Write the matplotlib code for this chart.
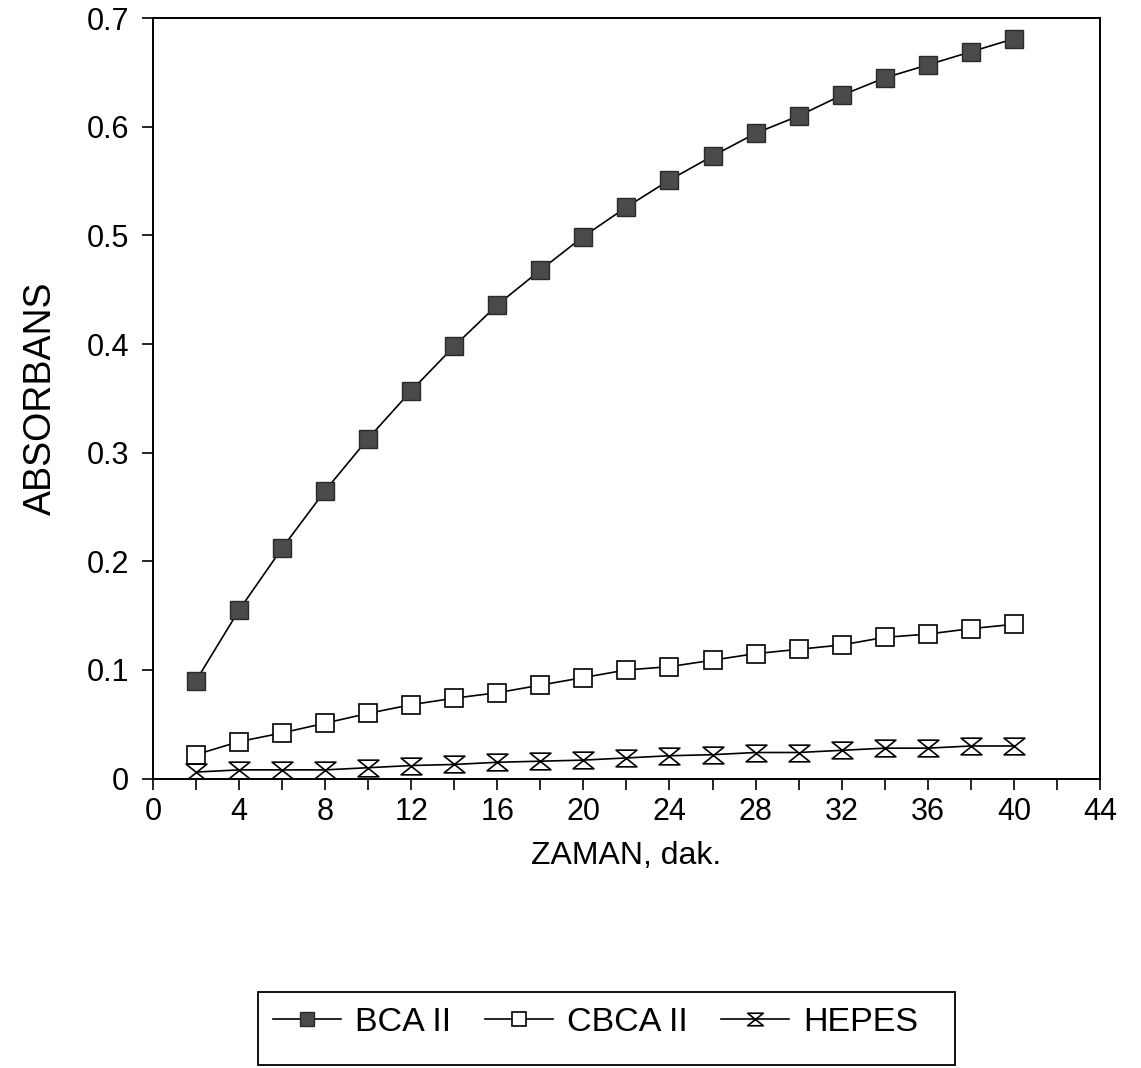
import matplotlib
matplotlib.use("Agg")
import matplotlib.pyplot as plt
from matplotlib.path import Path
from matplotlib.patches import Rectangle
from matplotlib.ticker import MultipleLocator, FuncFormatter

plt.rcParams["font.family"] = ["Liberation Sans", "DejaVu Sans"]

zaman = [2, 4, 6, 8, 10, 12, 14, 16, 18, 20, 22, 24, 26, 28, 30, 32, 34, 36, 38, 40]
bca = [0.090, 0.155, 0.212, 0.265, 0.313, 0.357, 0.398, 0.436, 0.468, 0.499,
       0.526, 0.551, 0.573, 0.594, 0.610, 0.629, 0.645, 0.657, 0.669, 0.681]
cbca = [0.022, 0.034, 0.042, 0.051, 0.060, 0.068, 0.074, 0.079, 0.086, 0.093,
        0.100, 0.103, 0.109, 0.115, 0.119, 0.123, 0.130, 0.133, 0.138, 0.142]
hepes = [0.006, 0.008, 0.008, 0.008, 0.010, 0.012, 0.013, 0.015, 0.016, 0.017,
         0.019, 0.021, 0.022, 0.024, 0.024, 0.026, 0.028, 0.028, 0.030, 0.030]

# hourglass marker: two triangles tip to tip
hourglass = Path([(-1, 0.8), (1, 0.8), (-1, -0.8), (1, -0.8), (-1, 0.8)],
                 [Path.MOVETO, Path.LINETO, Path.LINETO, Path.LINETO, Path.CLOSEPOLY])

fig = plt.figure(figsize=(11.41, 10.68), dpi=100)
ax = fig.add_axes([0.134, 0.271, 0.83, 0.712])

ax.plot(zaman, bca, color="black", lw=1.2, marker="s", markersize=13,
        markerfacecolor="#4a4a4a", markeredgecolor="#2a2a2a", label="BCA II")
ax.plot(zaman, cbca, color="black", lw=1.2, marker="s", markersize=13,
        markerfacecolor="white", markeredgecolor="black", markeredgewidth=1.2,
        label="CBCA II")
ax.plot(zaman, hepes, color="black", lw=1.2, marker=hourglass, markersize=15,
        markerfacecolor="white", markeredgecolor="black", markeredgewidth=1.2,
        label="HEPES")

ax.set_xlim(0, 44)
ax.set_ylim(0, 0.7)
ax.xaxis.set_major_locator(MultipleLocator(4))
ax.xaxis.set_minor_locator(MultipleLocator(2))
ax.yaxis.set_major_locator(MultipleLocator(0.1))
ax.yaxis.set_major_formatter(FuncFormatter(lambda v, p: "0" if abs(v) < 1e-9 else f"{v:.1f}"))
ax.tick_params(which="both", direction="out", length=8, width=1.2, labelsize=22)
ax.tick_params(axis="x", pad=5)
ax.tick_params(axis="y", pad=9)
for s in ax.spines.values():
    s.set_linewidth(1.4)

ax.set_xlabel("ZAMAN, dak.", fontsize=23, labelpad=10)
ax.set_ylabel("ABSORBANS", fontsize=27, labelpad=20)

# legend box sits below the plot, entries in its upper part
fig.patches.append(Rectangle((0.226, 0.003), 0.611, 0.068, transform=fig.transFigure,
                             fill=False, edgecolor="black", linewidth=1.3))
fig.legend(loc="center", bbox_to_anchor=(0.522, 0.043), ncol=3, fontsize=24.5,
           frameon=False, handlelength=2.0, handletextpad=0.4, columnspacing=1.0,
           markerscale=0.75)

fig.savefig("out.png", dpi=100, facecolor="white")
